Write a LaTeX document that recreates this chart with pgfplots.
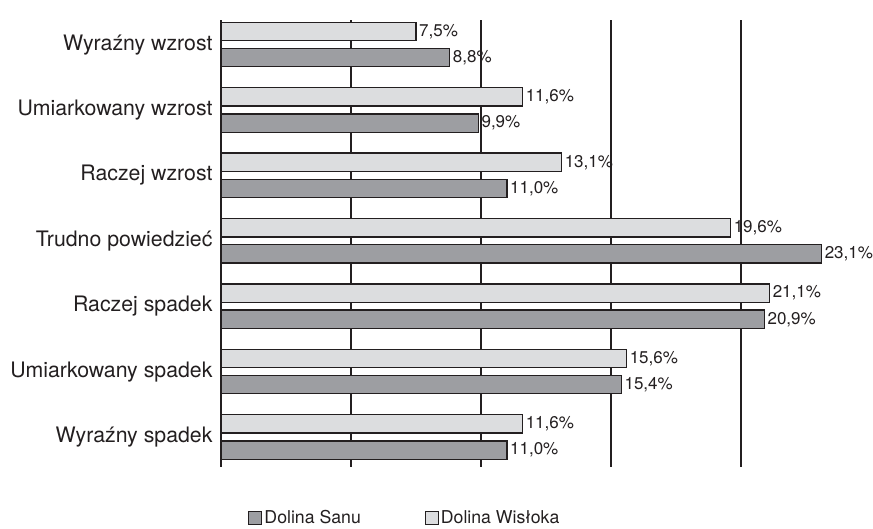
\documentclass[border=0pt]{standalone}
\usepackage{pgfplots}
\pgfplotsset{compat=1.18}
\usepackage{fontspec}
\setmainfont{TeX Gyre Heros}
\definecolor{txt}{HTML}{231F20}
\definecolor{lightbar}{HTML}{DCDDDF}
\definecolor{darkbar}{HTML}{9D9EA2}
\begin{document}
\begin{tikzpicture}
\useasboundingbox (0,0) rectangle (873pt,529pt);
\begin{axis}[
  at={(221pt,62pt)}, anchor=south west,
  scale only axis, width=650pt, height=447pt,
  xmin=0, xmax=25, ymin=-0.459, ymax=6.376,
  xbar, bar width=0.28,
  axis line style={draw=none},
  xtick={0,5,10,15,20}, xticklabels={},
  xmajorgrids, grid style={txt, line width=1.3pt},
  major tick length=0pt,
  ytick={0,1,2,3,4,5,6},
  yticklabels={Wyraźny spadek, Umiarkowany spadek, Raczej spadek, Trudno powiedzieć, Raczej wzrost, Umiarkowany wzrost, Wyraźny wzrost},
  yticklabel style={font=\fontsize{21.3}{25}\selectfont, text=txt, xshift=-5pt},
  /pgf/number format/assume math mode=true,
  nodes near coords={\pgfmathprintnumber[use comma,fixed,fixed zerofill,precision=1]{\pgfplotspointmeta}\%},
  nodes near coords style={font=\fontsize{17}{20}\selectfont, text=txt, anchor=west, inner sep=0pt, xshift=2.5pt},
  clip=false,
  legend columns=2,
  legend style={draw=none, fill=none, at={(0.283,-0.114)}, anchor=center,
    font=\fontsize{17.7}{21}\selectfont, text=txt,
    /tikz/every even column/.append style={column sep=62pt},
    nodes={inner sep=2pt}},
  legend image code/.code={\draw[#1, line width=1pt] (0pt,-6.5pt) rectangle (13pt,6.5pt);},
]
\addplot[fill=darkbar, draw=txt, line width=1.3pt, bar shift=-0.2] coordinates {
(11.0,0) (15.4,1) (20.9,2) (23.1,3) (11.0,4) (9.9,5) (8.8,6)};
\addlegendentry{Dolina Sanu}
\addplot[fill=lightbar, draw=txt, line width=1.3pt, bar shift=0.2] coordinates {
(11.6,0) (15.6,1) (21.1,2) (19.6,3) (13.1,4) (11.6,5) (7.5,6)};
\addlegendentry{Dolina Wisłoka}
\end{axis}
\end{tikzpicture}
\end{document}
